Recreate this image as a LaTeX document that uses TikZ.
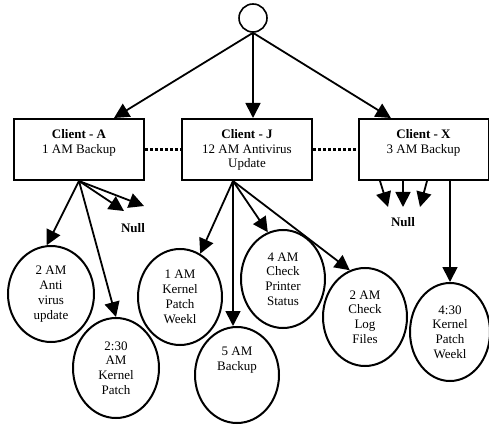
\documentclass[tikz,border=0pt]{standalone}
\usepackage{fontspec}
\setmainfont{Liberation Serif}
\usetikzlibrary{arrows.meta,shapes.geometric,calc}

\tikzset{
  box/.style={draw, line width=2pt, minimum width=130pt, minimum height=61pt, inner sep=0pt},
  txt/.style={align=center, font=\fontsize{13}{14.8}\selectfont, inner sep=0pt},
  leaf/.style={draw, ellipse, line width=2pt, inner sep=0pt, align=center,
    font=\fontsize{13}{14.8}\selectfont},
  arr/.style={line width=1.8pt, -{Triangle[length=15pt,width=15pt]}},
  dots/.style={line width=2.8pt, dash pattern=on 2.8pt off 2.2pt}
}

\begin{document}
\begin{tikzpicture}[x=1pt,y=-1pt]
  \useasboundingbox (0,0) rectangle (489,427);
  % radice
  \node[draw, circle, line width=1.6pt, minimum size=28pt, inner sep=0pt] (top) at (253,18) {};
  % client
  \node[box] (boxA) at (79,149.5) {};
  \node[box] (boxJ) at (247,149.5) {};
  \node[box] (boxX) at (423.5,149.5) {};
  \node[txt] (tA) at (79,143) {\textbf{Client - A}\\1 AM Backup};
  \node[txt] (tJ) at (247,150) {\textbf{Client - J}\\12 AM Antivirus\\Update};
  \node[txt] (tX) at (423.5,142.5) {\textbf{Client - X}\\3 AM Backup};
  \draw[arr] (top.south) -- (boxA.42);
  \draw[arr] (top.south) -- (top.south |- boxJ.north);
  \draw[arr] (top.south) -- (boxX.136);
  \draw[dots] (boxA.east) -- (boxJ.west);
  \draw[dots] (boxJ.east) -- (boxX.west);
  % job di A
  \node[leaf, minimum width=86pt, minimum height=96pt] (aav) at (51,294) {2 AM\\Anti\\virus\\update};
  \node[leaf, minimum width=86pt, minimum height=100pt] (akp) at (116,368) {2:30\\AM\\Kernel\\Patch};
  \node[txt] (nullA) at (133,228) {\textbf{Null}};
  \coordinate (na1) at (124,211);
  \coordinate (na2) at (144,206);
  \draw[arr] (boxA.south) -- (aav.95);
  \draw[arr] (boxA.south) -- (akp.north);
  \draw[arr] (boxA.south) -- (na1);
  \draw[arr] (boxA.south) -- (na2);
  % job di J
  \coordinate (jout) at ($(boxJ.south)+(-14,0)$);
  \node[leaf, minimum width=84pt, minimum height=96pt] (jkp) at (180,297) {1 AM\\Kernel\\Patch\\Weekl};
  \node[leaf, minimum width=84pt, minimum height=96pt] (jbk) at (237,375) {};
  \node[txt] (tjbk) at (237,360) {5 AM\\Backup};
  \node[leaf, minimum width=84pt, minimum height=98pt] (jps) at (283,279) {4 AM\\Check\\Printer\\Status};
  \node[leaf, minimum width=84pt, minimum height=98pt] (jlf) at (365,317) {2 AM\\Check\\Log\\Files};
  \draw[arr] (jout) -- (jkp.65);
  \draw[arr] (jout) -- (jout |- jbk.north);
  \draw[arr] (jout) -- (jps.108);
  \draw[arr] (jout) -- (jlf.108);
  % job di X
  \node[leaf, minimum width=80pt, minimum height=98pt] (xkp) at (450,332) {4:30\\Kernel\\Patch\\Weekl};
  \node[txt] (nullX) at (403,222) {\textbf{Null}};
  \coordinate (xs1) at ($(boxX.south)+(-43.5,0)$);
  \coordinate (xs2) at ($(boxX.south)+(-20.5,0)$);
  \coordinate (xs3) at ($(boxX.south)+(3.5,0)$);
  \coordinate (nx1) at (388,207);
  \coordinate (nx2) at (403,207);
  \coordinate (nx3) at (420,207);
  \draw[arr] (xs1) -- (nx1);
  \draw[arr] (xs2) -- (nx2);
  \draw[arr] (xs3) -- (nx3);
  \draw[arr] (xkp.north |- boxX.south) -- (xkp.north);
\end{tikzpicture}
\end{document}
